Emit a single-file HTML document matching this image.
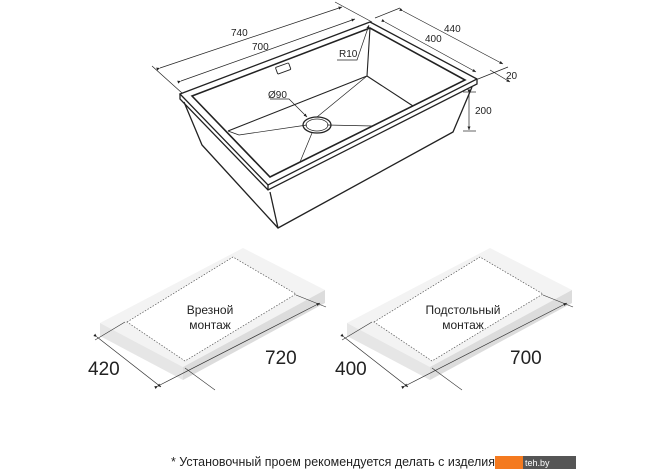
<!DOCTYPE html>
<html><head><meta charset="utf-8"><style>
html,body{margin:0;padding:0;background:#fff;}
svg{display:block;font-family:"Liberation Sans",sans-serif;}
</style></head><body>
<svg width="670" height="471" viewBox="0 0 670 471" xmlns="http://www.w3.org/2000/svg">
<defs><marker id="a" markerWidth="6" markerHeight="6" refX="5" refY="3" orient="auto"><path d="M0,0.8 L5,3 L0,5.2z" fill="#222"/></marker></defs>
<g stroke="#222" fill="none" stroke-width="1.3">
<path d="M180,94 L370,22 L477,79 L268,185 Z"/>
<path d="M180,94 L180,99 L268,190 L477,84 L477,79"/>
<path d="M268,185 L268,190"/>
<path d="M192,96 L370,28 L465,80 L270,177 Z" stroke-width="1.6"/>
<path d="M184,102 L202,145 L278,228 L453,132 L472,87"/>
<path d="M270,192 L278,228"/>
<path d="M370,28 L367,76 L228,131" stroke-width="1.1"/>
<path d="M367,76 L413,106" stroke-width="1.1"/>
<path d="M228,131 L239,135 M413,106 L405,110" stroke-width="0.8"/>
<path d="M239,135 L307,125 M327,125 L373,126 M317,117 L367,76 M312,133 L300,162" stroke-width="0.7"/>
<ellipse cx="317" cy="125" rx="14" ry="8"/>
<ellipse cx="317" cy="125" rx="11" ry="6" stroke-width="0.7"/>
<rect x="276" y="65" width="14" height="7" rx="1" transform="rotate(-20 283 68)" stroke-width="0.9"/>
</g>
<g stroke="#222" stroke-width="0.7" fill="none">
<line x1="160" y1="68" x2="342" y2="7" marker-end="url(#a)" marker-start="url(#a)"/>
<line x1="181" y1="81" x2="355" y2="19" marker-end="url(#a)" marker-start="url(#a)"/>
<line x1="152" y1="66" x2="182" y2="93"/>
<line x1="335" y1="2" x2="372" y2="22"/>
<line x1="403" y1="11" x2="503" y2="64" marker-end="url(#a)" marker-start="url(#a)"/>
<line x1="385" y1="22" x2="476" y2="72" marker-end="url(#a)" marker-start="url(#a)"/>
<line x1="375" y1="18" x2="400" y2="8"/>
<line x1="478" y1="79" x2="508" y2="67"/>
<line x1="490" y1="70" x2="510" y2="82" marker-end="url(#a)"/>
<line x1="469" y1="93" x2="469" y2="130" marker-end="url(#a)" marker-start="url(#a)"/>
<line x1="463" y1="92" x2="476" y2="92"/><line x1="463" y1="131" x2="476" y2="131"/>
<polyline points="337,60 357,60 369,25" marker-end="url(#a)"/>
<polyline points="270,99 289,99 307,117" marker-end="url(#a)"/>
</g>
<g font-size="10" fill="#222">
<text x="231" y="36">740</text>
<text x="252" y="50">700</text>
<text x="444" y="32">440</text>
<text x="425" y="42">400</text>
<text x="506" y="79">20</text>
<text x="475" y="114">200</text>
<text x="339" y="57">R10</text>
<text x="268" y="98">Ø90</text>
</g>
<g id="slab">
<path d="M100,323 L243,248 L325,290 L183,367 Z" fill="#f3f3f3"/>
<path d="M100,323 L183,367 L183,380 L100,336 Z" fill="#e6e6e6"/>
<path d="M183,367 L325,290 L325,303 L183,380 Z" fill="#dcdcdc"/>
<path d="M127,322 L233,257 L296,294 L185,361 Z" fill="#fff" stroke="#555" stroke-width="0.7" stroke-dasharray="1.5,1.5"/>
<line x1="97" y1="337" x2="161" y2="387" stroke="#333" stroke-width="0.7" marker-end="url(#a)" marker-start="url(#a)"/>
<line x1="158" y1="386" x2="320" y2="303" stroke="#333" stroke-width="0.7" marker-end="url(#a)" marker-start="url(#a)"/>
<line x1="95" y1="340" x2="125" y2="322" stroke="#333" stroke-width="0.6"/>
<line x1="185" y1="368" x2="215" y2="390" stroke="#333" stroke-width="0.6"/>
<line x1="296" y1="295" x2="326" y2="307" stroke="#333" stroke-width="0.6"/>
</g>
<use href="#slab" x="247"/>
<g fill="#222" font-size="12" text-anchor="middle">
<text x="210" y="314">Врезной</text><text x="210" y="329">монтаж</text>
<text x="463" y="314">Подстольный</text><text x="463" y="329">монтаж</text>
</g>
<g fill="#222" font-size="19">
<text x="88" y="375">420</text><text x="265" y="364">720</text>
<text x="335" y="375">400</text><text x="510" y="364">700</text>
</g>
<text x="171" y="466" font-size="13" fill="#222" textLength="324" lengthAdjust="spacingAndGlyphs">* Установочный проем рекомендуется делать с изделия</text>
<rect x="495" y="456" width="28" height="13" fill="#f47a1f"/>
<rect x="523" y="456" width="53" height="13" fill="#555"/>
<text x="525" y="466" font-size="9" fill="#fff">teh.by</text>
</svg>
</body></html>
